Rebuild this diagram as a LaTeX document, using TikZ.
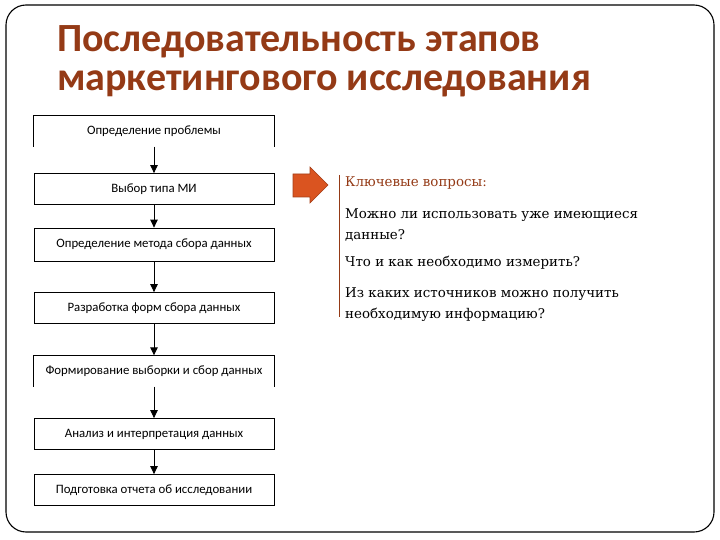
\documentclass[tikz,border=0pt]{standalone}
\usepackage{fontspec}
\setmainfont{DejaVu Serif}
\newfontfamily\calib{Carlito}
\usetikzlibrary{arrows.meta}
\definecolor{titlebrown}{RGB}{148,58,22}
\definecolor{arrorange}{RGB}{218,84,32}

\begin{document}
\begin{tikzpicture}[x=1pt, y=-1pt,
    stage/.style={minimum width=240pt, minimum height=31pt, inner sep=0pt, font=\calib\fontsize{12.8}{14}\selectfont},
    boxed/.style={stage, draw, line width=0.8pt},
    flow/.style={-{Triangle[length=8pt,width=7.5pt]}, line width=0.9pt},
    question/.style={anchor=base west, inner sep=0pt, align=left, font=\fontsize{13.4}{21}\selectfont}]
  \useasboundingbox (0,0) rectangle (720,540);
  \draw[line width=1.1pt, rounded corners=20pt] (6,5) rectangle (714,532);
  \node[anchor=base west, inner sep=0pt, text=titlebrown, align=left,
    font=\calib\bfseries\fontsize{40}{39}\selectfont] (title) at (57,91) {Последовательность этапов\\маркетингового исследования};

  % stages
  \node[stage] (st1) at (154,131) {Определение проблемы};
  \draw[line width=0.8pt] (st1.south west) -- (st1.north west) -- (st1.north east) -- (st1.south east);
  \node[boxed] (st2) at (154,189) {Выбор типа МИ};
  \node[boxed, minimum height=33pt] (st3) at (154,244.5) {Определение метода сбора данных};
  \node[boxed] (st4) at (154,308) {Разработка форм сбора данных};
  \node[stage] (st5) at (154,371) {Формирование выборки и сбор данных};
  \draw[line width=0.8pt] (st5.south west) -- (st5.north west) -- (st5.north east) -- (st5.south east);
  \node[boxed] (st6) at (154,434) {Анализ и интерпретация данных};
  \node[boxed] (st7) at (154,490) {Подготовка отчета об исследовании};
  \draw[flow] (st1) -- (st2);
  \draw[flow] (st2) -- (st3);
  \draw[flow] (st3) -- (st4);
  \draw[flow] (st4) -- (st5);
  \draw[flow] (st5) -- (st6);
  \draw[flow] (st6) -- (st7);

  % key questions
  \draw[fill=arrorange, draw=arrorange!75!black, line width=0.6pt]
    (293,174) -- (310,174) -- (310,167) -- (328,185) -- (310,203) -- (310,197) -- (293,197) -- cycle;
  \draw[titlebrown, line width=0.9pt] (339,175) -- (339,317);
  \node[question, text=titlebrown] (keyq) at (345,187) {Ключевые вопросы:};
  \node[question] (q1) at (345,240) {Можно ли использовать уже имеющиеся\\данные?};
  \node[question] (q2) at (345,266) {Что и как необходимо измерить?};
  \node[question] (q3) at (345,318) {Из каких источников можно получить\\необходимую информацию?};
\end{tikzpicture}
\end{document}
